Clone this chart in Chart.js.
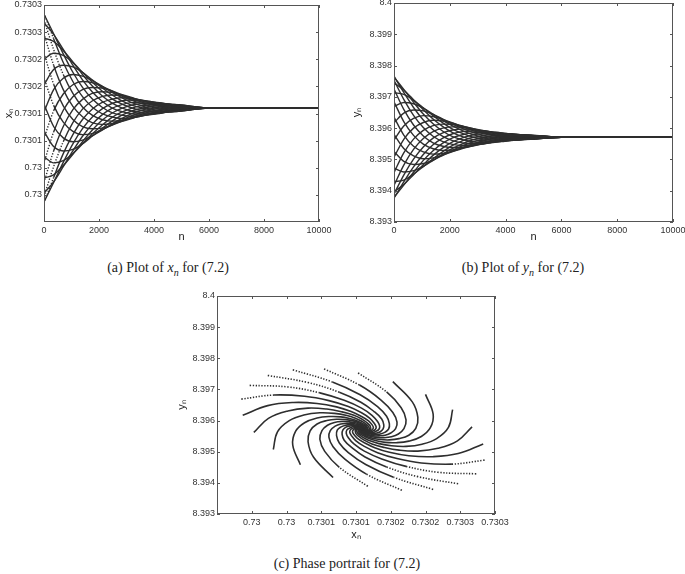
<!DOCTYPE html>
<html>
<head>
<meta charset="utf-8">
<script src="https://cdn.jsdelivr.net/npm/chart.js@4.4.1/dist/chart.umd.min.js"></script>
<style>
  body { margin: 0; background: #fff; }
  #page { position: relative; width: 685px; height: 574px; overflow: hidden; background: #fff; }
  canvas { position: absolute; }
  .cap { position: absolute; width: 220px; font-family: 'Liberation Serif', 'DejaVu Serif', serif; font-size: 14px; color: #222; text-align: center; white-space: nowrap; }
  .cap sub { font-size: 10px; }
</style>
</head>
<body>
<div id="page">
  <canvas id="plotX" width="340" height="250" style="left:0;top:0"></canvas>
  <canvas id="plotY" width="340" height="250" style="left:345px;top:0"></canvas>
  <canvas id="phase" width="340" height="265" style="left:170px;top:280px"></canvas>
  <div class="cap" style="left:58px;top:260px">(a) Plot of <i>x<sub>n</sub></i> for (7.2)</div>
  <div class="cap" style="left:413px;top:260px">(b) Plot of <i>y<sub>n</sub></i> for (7.2)</div>
  <div class="cap" style="left:237px;top:556px">(c) Phase portrait for (7.2)</div>
</div>
<script>
const nSteps = [0, 350, 700, 1050, 1400, 1750, 2100, 2450, 2800, 3150, 3500, 3850, 4200, 4550, 4900, 6000, 10000];

// fixed point the orbits settle on
const xStar = 0.73011;
const yStar = 8.39571;

// x_n - xStar for the 22 orbits, in units of 1e-6
const xDev = [
    [173, 137, 100, 66, 38, 17, 2, -8, -13, -15, -14, -12, -10, -7, -5, 0, 0],
    [157, 136, 108, 79, 52, 30, 13, 1, -6, -10, -11, -11, -9, -7, -5, 0, 0],
    [129, 123, 106, 85, 62, 41, 23, 10, 1, -5, -8, -9, -9, -7, -6, 0, 0],
    [90, 101, 97, 84, 66, 48, 32, 18, 8, 1, -4, -6, -7, -7, -6, 0, 0],
    [43, 71, 79, 76, 66, 52, 38, 25, 14, 6, 1, -3, -5, -6, -5, 0, 0],
    [-7, 34, 55, 62, 59, 51, 41, 30, 20, 11, 5, 0, -2, -4, -4, 0, 0],
    [-56, -5, 26, 43, 49, 47, 40, 32, 23, 15, 9, 4, 0, -2, -3, 0, 0],
    [-101, -44, -4, 21, 34, 38, 37, 32, 25, 18, 12, 7, 3, 0, -1, 0, 0],
    [-137, -79, -34, -3, 16, 27, 30, 29, 25, 20, 14, 10, 5, 2, 0, 0, 0],
    [-163, -108, -62, -27, -2, 13, 21, 24, 23, 19, 15, 11, 7, 4, 2, 0, 0],
    [-175, -128, -84, -49, -21, -2, 10, 16, 19, 18, 15, 12, 9, 6, 3, 0, 0],
    [-173, -137, -100, -66, -38, -17, -2, 8, 13, 15, 14, 12, 10, 7, 5, 0, 0],
    [-157, -136, -108, -79, -52, -30, -13, -1, 6, 10, 11, 11, 9, 7, 5, 0, 0],
    [-129, -123, -106, -85, -62, -41, -23, -10, -1, 5, 8, 9, 9, 7, 6, 0, 0],
    [-90, -101, -97, -84, -66, -48, -32, -18, -8, -1, 4, 6, 7, 7, 6, 0, 0],
    [-43, -71, -79, -76, -66, -52, -38, -25, -14, -6, -1, 3, 5, 6, 5, 0, 0],
    [7, -34, -55, -62, -59, -51, -41, -30, -20, -11, -5, 0, 2, 4, 4, 0, 0],
    [56, 5, -26, -43, -49, -47, -40, -32, -23, -15, -9, -4, 0, 2, 3, 0, 0],
    [101, 44, 4, -21, -34, -38, -37, -32, -25, -18, -12, -7, -3, 0, 1, 0, 0],
    [137, 79, 34, 3, -16, -27, -30, -29, -25, -20, -14, -10, -5, -2, 0, 0, 0],
    [163, 108, 62, 27, 2, -13, -21, -24, -23, -19, -15, -11, -7, -4, -2, 0, 0],
    [175, 128, 84, 49, 21, 2, -10, -16, -19, -18, -15, -12, -9, -6, -3, 0, 0]
];

// y_n - yStar for the same orbits, in units of 1e-5
const yDev = [
    [-46, -77, -87, -84, -73, -58, -42, -28, -16, -7, -1, 3, 5, 6, 6, 0, 0],
    [9, -36, -60, -69, -66, -57, -46, -33, -22, -13, -6, -1, 3, 4, 5, 0, 0],
    [64, 7, -29, -47, -54, -52, -45, -36, -26, -17, -10, -4, 0, 2, 3, 0, 0],
    [113, 50, 6, -22, -37, -42, -41, -35, -28, -20, -14, -8, -3, 0, 2, 0, 0],
    [154, 89, 39, 4, -18, -29, -33, -32, -28, -22, -16, -11, -6, -3, 0, 0, 0],
    [182, 121, 70, 31, 3, -14, -23, -26, -25, -22, -17, -13, -8, -5, -2, 0, 0],
    [195, 143, 95, 55, 24, 3, -11, -18, -20, -20, -17, -14, -10, -7, -4, 0, 0],
    [192, 153, 112, 74, 43, 19, 2, -8, -14, -16, -15, -13, -11, -8, -5, 0, 0],
    [174, 151, 120, 88, 58, 34, 15, 2, -7, -11, -13, -12, -10, -8, -6, 0, 0],
    [142, 137, 118, 94, 69, 46, 26, 12, 1, -5, -9, -10, -9, -8, -7, 0, 0],
    [98, 111, 107, 93, 74, 54, 36, 21, 9, 1, -4, -7, -8, -7, -6, 0, 0],
    [46, 77, 87, 84, 73, 58, 42, 28, 16, 7, 1, -3, -5, -6, -6, 0, 0],
    [-9, 36, 60, 69, 66, 57, 46, 33, 22, 13, 6, 1, -3, -4, -5, 0, 0],
    [-64, -7, 29, 47, 54, 52, 45, 36, 26, 17, 10, 4, 0, -2, -3, 0, 0],
    [-113, -50, -6, 22, 37, 42, 41, 35, 28, 20, 14, 8, 3, 0, -2, 0, 0],
    [-154, -89, -39, -4, 18, 29, 33, 32, 28, 22, 16, 11, 6, 3, 0, 0, 0],
    [-182, -121, -70, -31, -3, 14, 23, 26, 25, 22, 17, 13, 8, 5, 2, 0, 0],
    [-195, -143, -95, -55, -24, -3, 11, 18, 20, 20, 17, 14, 10, 7, 4, 0, 0],
    [-192, -153, -112, -74, -43, -19, -2, 8, 14, 16, 15, 13, 11, 8, 5, 0, 0],
    [-174, -151, -120, -88, -58, -34, -15, -2, 7, 11, 13, 12, 10, 8, 6, 0, 0],
    [-142, -137, -118, -94, -69, -46, -26, -12, -1, 5, 9, 10, 9, 8, 7, 0, 0],
    [-98, -111, -107, -93, -74, -54, -36, -21, -9, -1, 4, 7, 8, 7, 6, 0, 0]
];

// axis ticks, labelled the way the original (4 significant digits) shows them
const nTicks = [0, 2000, 4000, 6000, 8000, 10000];
const nTickLabels = ['0', '2000', '4000', '6000', '8000', '10000'];
const xTicks = [0.72995, 0.73, 0.73005, 0.7301, 0.73015, 0.7302, 0.73025, 0.7303];
const xTickLabels = ['0.73', '0.73', '0.7301', '0.7301', '0.7302', '0.7302', '0.7303', '0.7303'];
const yTicks = [8.393, 8.394, 8.395, 8.396, 8.397, 8.398, 8.399, 8.4];
const yTickLabels = ['8.393', '8.394', '8.395', '8.396', '8.397', '8.398', '8.399', '8.4'];

const xSeries = xDev.map(row => row.map(d => xStar + d * 1e-6));
const ySeries = yDev.map(row => row.map(d => yStar + d * 1e-5));

Chart.defaults.font.family = "'Liberation Sans', Arial, sans-serif";
Chart.defaults.font.size = 9;
Chart.defaults.color = '#333';

// matlab-like frame: full box with short inward ticks on all four sides
const boxPlugin = {
    id: 'box',
    afterDraw(chart) {
        const { ctx, chartArea: a, scales } = chart;
        ctx.save();
        ctx.strokeStyle = '#555';
        ctx.lineWidth = 1;
        ctx.strokeRect(Math.round(a.left) + 0.5, Math.round(a.top) + 0.5,
            Math.round(a.right - a.left) - 1, Math.round(a.bottom - a.top) - 1);
        ctx.beginPath();
        scales.x.ticks.forEach(t => {
            const px = Math.round(scales.x.getPixelForValue(t.value)) + 0.5;
            ctx.moveTo(px, a.bottom); ctx.lineTo(px, a.bottom - 3);
            ctx.moveTo(px, a.top); ctx.lineTo(px, a.top + 3);
        });
        scales.y.ticks.forEach(t => {
            const py = Math.round(scales.y.getPixelForValue(t.value)) + 0.5;
            ctx.moveTo(a.left, py); ctx.lineTo(a.left + 3, py);
            ctx.moveTo(a.right, py); ctx.lineTo(a.right - 3, py);
        });
        ctx.stroke();
        ctx.restore();
    }
};

function scaleOpts(min, max, ticks, labels, boxSize, title, titlePad, tickPad) {
    return {
        type: 'linear',
        min: min,
        max: max,
        grid: { display: false, drawTicks: false },
        border: { display: false },
        ticks: { autoSkip: false, maxRotation: 0, padding: tickPad, callback: (v, i) => labels[i] },
        afterBuildTicks: s => { s.ticks = ticks.map(v => ({ value: v })); },
        afterFit: s => {
            if (s.isHorizontal()) {
                s.height = boxSize; s.paddingLeft = 0; s.paddingRight = 0;
            } else {
                s.width = boxSize; s.paddingTop = 0; s.paddingBottom = 0;
            }
        },
        title: { display: true, text: title, color: '#222', font: { size: 11 }, padding: titlePad }
    };
}

// orbits move fastest early on; the original shows those stretches as dots
function dashWhenFast(limit) {
    return ctx => {
        const dn = nSteps[ctx.p1DataIndex] - nSteps[ctx.p0DataIndex];
        const d = Math.hypot(ctx.p1.x - ctx.p0.x, ctx.p1.y - ctx.p0.y);
        return d / dn > limit ? [1.3, 1.6] : undefined;
    };
}

function baseOptions(padding, xScale, yScale) {
    return {
        responsive: false,
        animation: false,
        events: [],
        layout: { padding: padding },
        plugins: { legend: { display: false }, tooltip: { enabled: false } },
        scales: { x: xScale, y: yScale }
    };
}

function timeSeries(rows) {
    return rows.map(row => ({
        data: row.map((v, i) => ({ x: nSteps[i], y: v })),
        borderColor: '#2e2e2e',
        borderWidth: 1.4,
        pointRadius: 0,
        fill: false,
        cubicInterpolationMode: 'monotone',
        segment: { borderDash: dashWhenFast(0.075) }
    }));
}

new Chart(document.getElementById('plotX'), {
    type: 'line',
    data: { datasets: timeSeries(xSeries) },
    options: baseOptions({ top: 5, right: 21, left: 0, bottom: 0 },
        scaleOpts(0, 10000, nTicks, nTickLabels, 28, 'n', { top: 0, bottom: 6 }, 3),
        scaleOpts(0.7299, 0.7303, xTicks, xTickLabels, 44, 'x\u2099', { top: 2, bottom: 0 }, 2)),
    plugins: [boxPlugin]
});

new Chart(document.getElementById('plotY'), {
    type: 'line',
    data: { datasets: timeSeries(ySeries) },
    options: baseOptions({ top: 3, right: 12, left: 0, bottom: 0 },
        scaleOpts(0, 10000, nTicks, nTickLabels, 28, 'n', { top: 0, bottom: 6 }, 3),
        scaleOpts(8.393, 8.4, yTicks, yTickLabels, 49, 'y\u2099', { top: 5, bottom: 0 }, 2)),
    plugins: [boxPlugin]
});

new Chart(document.getElementById('phase'), {
    type: 'scatter',
    data: {
        datasets: xSeries.map((row, k) => ({
            data: row.map((v, i) => ({ x: v, y: ySeries[k][i] })),
            showLine: true,
            borderColor: '#2e2e2e',
            borderWidth: 1.6,
            pointRadius: 0,
            tension: 0.4,
            segment: { borderDash: dashWhenFast(0.09) }
        }))
    },
    options: baseOptions({ top: 16, right: 15, left: 0, bottom: 0 },
        scaleOpts(0.7299, 0.7303, xTicks, xTickLabels, 31, 'x\u2099', { top: 0, bottom: 3 }, 3),
        scaleOpts(8.393, 8.4, yTicks, yTickLabels, 47, 'y\u2099', { top: 5, bottom: 0 }, 2)),
    plugins: [boxPlugin]
});
</script>
</body>
</html>
